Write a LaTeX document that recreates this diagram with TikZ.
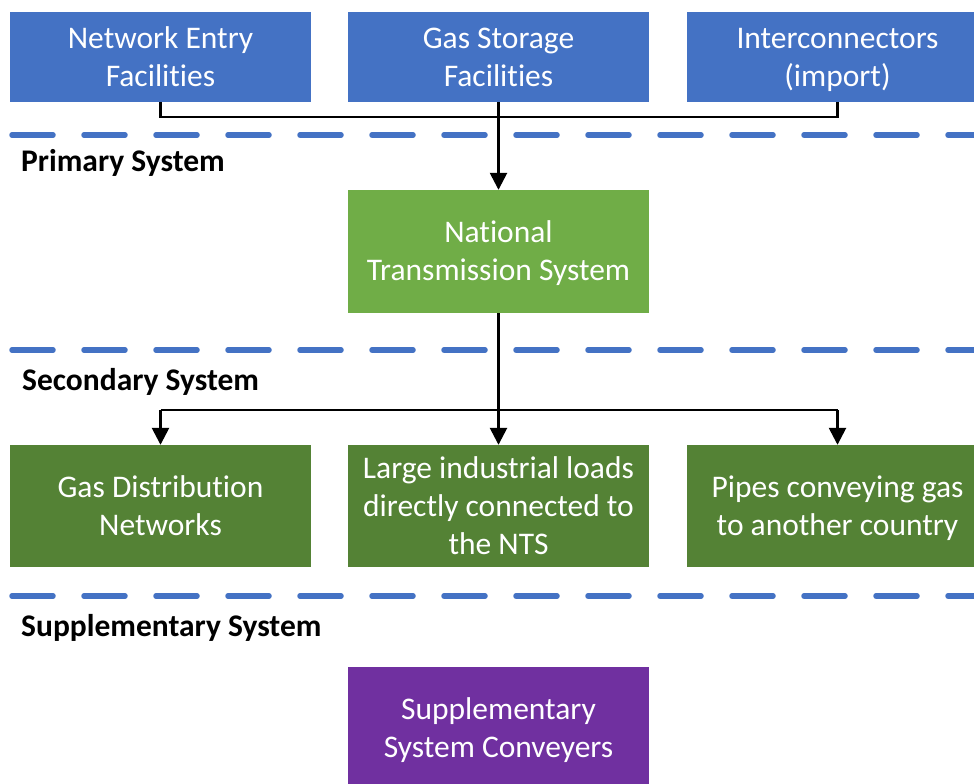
\documentclass[tikz,border=0pt]{standalone}
\usepackage{fontspec}
\setmainfont[Ligatures={NoCommon}]{Carlito}
\usetikzlibrary{arrows.meta}
\definecolor{bluebox}{HTML}{4472C4}
\definecolor{lgreen}{HTML}{70AD47}
\definecolor{dgreen}{HTML}{548235}
\definecolor{purp}{HTML}{7030A0}
\definecolor{dashblue}{HTML}{4472C4}
\tikzset{
  box/.style={draw=none, minimum width=301pt, inner sep=0pt, align=center, text=white,
    font=\fontsize{31.5}{38}\selectfont, text height=58pt, text depth=0pt},
  topbox/.style={box, fill=bluebox, minimum height=90pt},
  ntsbox/.style={box, fill=lgreen, minimum height=123pt},
  secbox/.style={box, fill=dgreen, minimum height=122pt},
  supbox/.style={box, fill=purp, minimum height=123pt},
  sep/.style={draw=dashblue, line width=5.5pt, line cap=round, dash pattern=on 41pt off 31pt},
  lvl/.style={anchor=west, inner sep=0pt, font=\bfseries\fontsize{31.5}{36}\selectfont},
  conn/.style={draw=black, line width=2.6pt},
  arr/.style={conn, -{Triangle[width=17pt,length=17pt]}}
}
\begin{document}
\begin{tikzpicture}[x=1pt,y=-1pt]
\useasboundingbox (0,0) rectangle (974,784);
\clip (0,0) rectangle (974,784);
\fill[white] (0,0) rectangle (974,784);

% dashed separators
\draw[sep] (12,135) -- (1000,135);
\draw[sep] (12,350) -- (1000,350);
\draw[sep] (12,596) -- (1000,596);

% level labels
\node[lvl] (lp) at (21,163) {Primary System};
\node[lvl] (ls) at (22,382) {Secondary System};
\node[lvl] (lsu) at (21,628) {Supplementary System};

% top boxes
\node[topbox] (nef) at (160.5,57) {Network Entry\\Facilities};
\node[topbox] (gsf) at (498.5,57) {Gas Storage\\Facilities};
\node[topbox] (ic) at (837.5,57) {Interconnectors\\(import)};

% NTS
\node[ntsbox] (nts) at (498.5,251.5) {National\\Transmission System};

% secondary boxes
\node[secbox] (gdn) at (160.5,506) {Gas Distribution\\Networks};
\node[secbox, text height=96pt] (lil) at (498.5,506) {Large industrial loads\\directly connected to\\the NTS};
\node[secbox] (pip) at (837.5,506) {Pipes conveying gas\\to another country};

% supplementary
\node[supbox] (ssc) at (498.5,728.5) {Supplementary\\System Conveyers};

% connectors top
\coordinate (tj1) at (160.5,117);
\coordinate (tj3) at (837.5,117);
\draw[conn] (nef.south) -- (tj1) -- (tj3) -- (ic.south);
\draw[arr] (gsf.south) -- (nts.north);

% connectors secondary
\coordinate (bj1) at (160.5,410);
\coordinate (bj3) at (837.5,410);
\draw[arr] (nts.south) -- (lil.north);
\draw[conn] (bj1) -- (bj3);
\draw[arr] (bj1) -- (gdn.north);
\draw[arr] (bj3) -- (pip.north);
\end{tikzpicture}
\end{document}
